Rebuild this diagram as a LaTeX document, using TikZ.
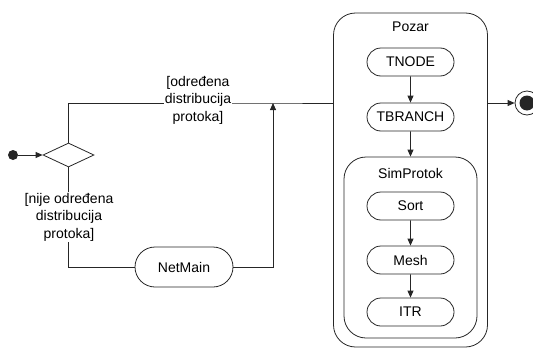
\documentclass[tikz,border=0pt]{standalone}
\usepackage{fontspec}
\setmainfont{Liberation Sans}
\usetikzlibrary{shapes.geometric,shapes.misc,arrows.meta}
\begin{document}
\begin{tikzpicture}[x=1pt,y=-1pt,
  every node/.style={font=\fontsize{14}{17.5}\selectfont},
  ln/.style={line width=0.8pt,draw=black!85},
  arr/.style={ln,-{Triangle[length=7pt,width=6pt]}},
  act/.style={rounded rectangle,ln,minimum width=87pt,minimum height=28pt,inner sep=0pt},
  region/.style={rectangle,ln,rounded corners=22pt,inner sep=0pt},
  guard/.style={fill=white,align=center,inner sep=1pt}]
\useasboundingbox (0,0) rectangle (533,348);
% containers
\node[region,minimum width=154pt,minimum height=334pt] (pozar) at (410.5,180) {};
\node (pozarlbl) at (410.5,27) {Pozar};
\node[region,minimum width=133pt,minimum height=181pt] (sim) at (410.5,247.5) {};
\node (simlbl) at (410.5,173) {SimProtok};
% actions
\node[act] (tnode) at (410.5,62) {TNODE};
\node[act] (tbranch) at (410.5,117) {TBRANCH};
\node[act] (sort) at (410.5,206) {Sort};
\node[act] (mesh) at (410.5,260) {Mesh};
\node[act] (itr) at (410.5,312) {ITR};
\node[act,minimum width=98pt,minimum height=40pt] (netmain) at (184,267) {NetMain};
% start / decision / end
\node[circle,fill=black!85,minimum size=10pt,inner sep=0pt] (start) at (13,155) {};
\node[diamond,ln,minimum width=51pt,minimum height=24pt,inner sep=0pt] (dec) at (68.5,155) {};
\node[circle,ln,minimum size=24pt,inner sep=0pt] (fin) at (527,103) {};
\node[circle,fill=black!85,minimum size=15pt,inner sep=0pt] (finin) at (527,103) {};
\coordinate (j) at (273,103);
% connectors
\draw[arr] (start) -- (dec.west);
\draw[ln] (dec.north) |- (j) -- (pozar.west |- j);
\draw[ln] (dec.south) |- (netmain.west);
\draw[arr] (netmain.east) -| (j);
\draw[arr] (pozar.east |- fin.west) -- (fin.west);
\draw[arr] (tnode) -- (tbranch);
\draw[arr] (tbranch) -- (sim.north);
\draw[arr] (sort) -- (mesh);
\draw[arr] (mesh) -- (itr);
% guards
\node[guard] (g1) at (198,100) {[određena\\distribucija\\protoka]};
\node[guard] (g2) at (69,217) {[nije određena\\distribucija\\protoka]};
\end{tikzpicture}
\end{document}
